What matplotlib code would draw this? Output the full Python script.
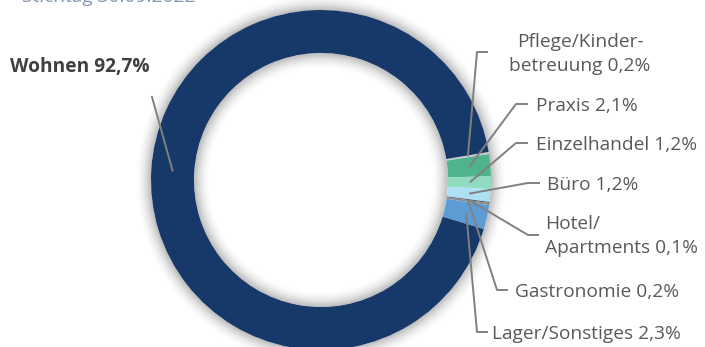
import numpy as np
import matplotlib
matplotlib.use('Agg')
import matplotlib.pyplot as plt
from matplotlib.patches import Wedge

# data
labels = ['Pflege/Kinder-\nbetreuung 0,2%', 'Praxis 2,1%', 'Einzelhandel 1,2%', 'Büro 1,2%',
          'Hotel/\nApartments 0,1%', 'Gastronomie 0,2%', 'Lager/Sonstiges 2,3%', 'Wohnen 92,7%']
shares = [0.2, 2.1, 1.2, 1.2, 0.1, 0.2, 2.3, 92.7]
colors = ['#C9C9C9', '#4FB38E', '#8FDCC0', '#AEE0F4', '#44546A', '#8C8C8C', '#5D9BD5', '#17396A']
title = 'Stichtag 30.09.2022'

# layout (pixel coords, y from top)
W, H = 705, 347
cx, cy, R, r_in = 321, 180, 170, 127
start = 9.5
# elbow points (x, y) and horizontal end x, then text pos
elbows = [(477, 52), (516, 104), (516, 143), (528, 183), (528, 235), (497, 290), (477, 332), None]
hends = [488, 528, 528, 540, 539, 508, 488, None]
text_pos = [(580, 54, 'center'), (536, 106, 'left'), (536, 145, 'left'), (547, 185, 'left'),
            (545, 236, 'left'), (515, 292, 'left'), (492, 334, 'left'), (150, 67, 'right')]

plt.rcParams['font.family'] = ['Open Sans', 'DejaVu Sans']
fig = plt.figure(figsize=(W / 100, H / 100), dpi=100)
ax = fig.add_axes([0, 0, 1, 1])
ax.set_xlim(0, W)
ax.set_ylim(0, H)
ax.set_aspect('equal')
ax.axis('off')

def py(y):
    return H - y

# soft shadow around ring
for i in range(16):
    a = 0.3 * (1 - i / 16) ** 2
    ax.add_patch(Wedge((cx, py(cy)), R + i + 1, 0, 360, width=1.2, color='#404040', alpha=a, lw=0))
    ax.add_patch(Wedge((cx, py(cy)), r_in - i, 0, 360, width=1.2, color='#404040', alpha=a, lw=0))

ax.pie(shares, colors=colors, startangle=start, counterclock=False, center=(cx, py(cy)),
       radius=R, wedgeprops=dict(width=R - r_in, linewidth=0), frame=True)
ax.set_xlim(0, W)
ax.set_ylim(0, H)
ax.axis('off')

total = sum(shares)
cum = 0
for i, v in enumerate(shares):
    mid = np.radians(start - 360 * (cum + v / 2) / total)
    cum += v
    ax_ = cx + 0.875 * R * np.cos(mid)
    ay_ = py(cy) + 0.875 * R * np.sin(mid)
    if elbows[i] is not None:
        ex, ey = elbows[i]
        ax.plot([ax_, ex, hends[i]], [ay_, py(ey), py(ey)], color='#808080', lw=1.4,
                solid_capstyle='butt', zorder=5)
    else:
        ax.plot([ax_, 152], [ay_, py(97)], color='#808080', lw=1.4, zorder=5)
    tx, ty, ha = text_pos[i]
    bold = i == len(shares) - 1
    ax.text(tx, py(ty), labels[i], ha=ha, va='center', fontsize=13.8,
            color='#404040' if bold else '#595959', fontweight='bold' if bold else 'normal',
            linespacing=1.42, multialignment='left' if ha == 'left' else 'center')

ax.text(22, py(2), title, ha='left', va='baseline', fontsize=13.8, color='#8497B0')

fig.savefig('out.png', dpi=100)
